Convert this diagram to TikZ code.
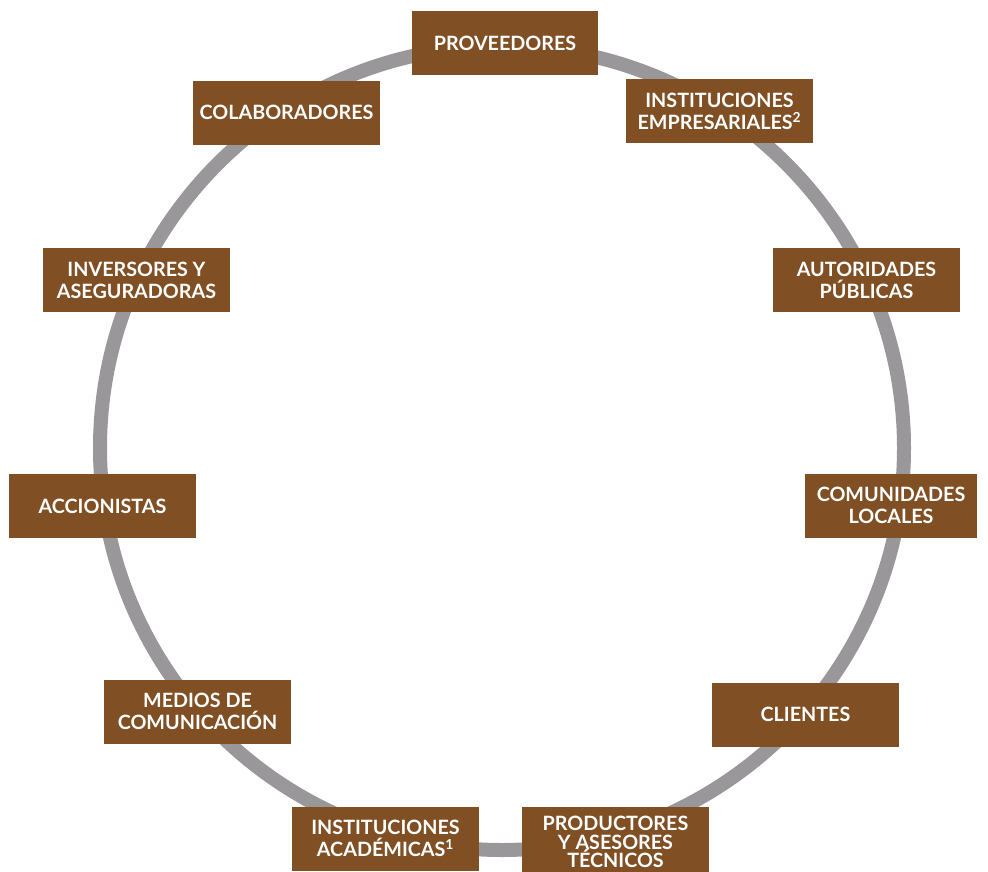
\documentclass[tikz,border=0pt]{standalone}
\usepackage{fontspec}
\setmainfont{Lato}
\usepackage{xcolor}
\definecolor{stakeBrown}{RGB}{128, 79, 36}
\definecolor{ringGray}{RGB}{153, 151, 154}
\usepackage{tikz}
\usetikzlibrary{positioning,shapes,backgrounds}

\tikzset{
  stakebox/.style={fill=stakeBrown, text=white, font=\bfseries\fontsize{14.8}{16.5}\selectfont,
    align=center, minimum width=140pt, minimum height=48pt, inner sep=2pt},
}

\begin{document}
\begin{tikzpicture}[x=0.75pt, y=-0.75pt]
\useasboundingbox (0,0) rectangle (988,871);
\fill[white] (0,0) rectangle (988,871);

% ring of stakeholders
\draw[ringGray, line width=10.5pt] (502,448) circle[radius=301.5pt];

\node[stakebox] (proveedores) at (505,43) {PROVEEDORES};
\node[stakebox] (empresariales) at (719.5,111) {INSTITUCIONES\\EMPRESARIALES\textsuperscript{2}};
\node[stakebox] (colaboradores) at (286.5,112.5) {COLABORADORES};
\node[stakebox] (autoridades) at (866.5,280) {AUTORIDADES\\PÚBLICAS};
\node[stakebox] (inversores) at (136.5,280) {INVERSORES Y\\ASEGURADORAS};
\node[stakebox] (accionistas) at (102.5,506) {ACCIONISTAS};
\node[stakebox, minimum width=129pt] (comunidades) at (891,505.5) {COMUNIDADES\\LOCALES};
\node[stakebox] (medios) at (197.5,711.5) {MEDIOS DE\\COMUNICACIÓN};
\node[stakebox] (clientes) at (805.5,714.5) {CLIENTES};
\node[stakebox] (academicas) at (385.5,838.5) {INSTITUCIONES\\ACADÉMICAS\textsuperscript{1}};
\node[stakebox, font=\bfseries\fontsize{14.8}{14}\selectfont, minimum height=52pt] (productores) at (615.5,842) {PRODUCTORES\\Y ASESORES\\TÉCNICOS};
\end{tikzpicture}
\end{document}
